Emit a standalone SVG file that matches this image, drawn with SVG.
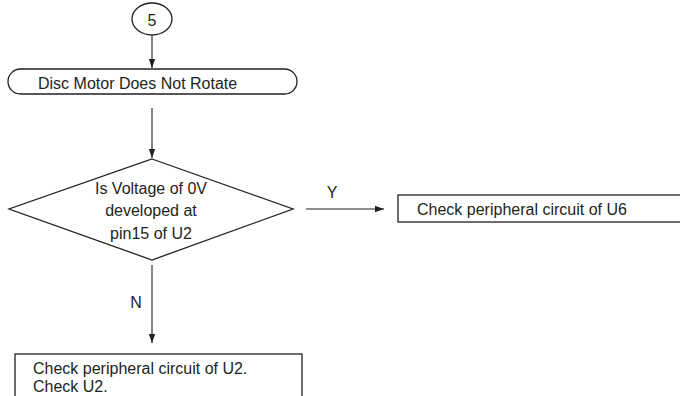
<svg xmlns="http://www.w3.org/2000/svg" width="680" height="396" viewBox="0 0 680 396">
<defs>
<marker id="ah" viewBox="0 0 10 10" refX="10" refY="5" markerWidth="9" markerHeight="9" markerUnits="userSpaceOnUse" orient="auto">
<path d="M0,1.5 L10,5 L0,8.5 Z" fill="#231f20"/>
</marker>
<style>
.s{fill:#fff;stroke:#231f20;stroke-width:1.3}
.t{font-family:"Liberation Sans",Arial,sans-serif;font-size:16px;fill:#231f20}
.c{text-anchor:middle}
.l{stroke:#231f20;stroke-width:1.1;fill:none}
</style>
</defs>
<rect width="680" height="396" fill="#fff"/>
<g id="connectors">
<line class="l" x1="152" y1="36" x2="152" y2="68" marker-end="url(#ah)"/>
<line class="l" x1="152" y1="108" x2="152" y2="158" marker-end="url(#ah)"/>
<line class="l" x1="306" y1="209" x2="384" y2="209" marker-end="url(#ah)"/>
<text class="t c" x="332" y="198">Y</text>
<line class="l" x1="152" y1="265" x2="152" y2="343" marker-end="url(#ah)"/>
<text class="t c" x="136" y="308">N</text>
</g>
<g id="start">
<ellipse class="s" cx="152" cy="19" rx="20" ry="16"/>
<text class="t c" x="152" y="26">5</text>
</g>
<g id="disc-motor">
<rect class="s" x="8" y="69" width="289" height="25" rx="12.5"/>
<text class="t" x="38" y="89">Disc Motor Does Not Rotate</text>
</g>
<g id="decision">
<polygon class="s" points="152,159 293,209 152,260 9,209"/>
<text class="t c" x="151" y="194">Is Voltage of 0V</text>
<text class="t c" x="151" y="216">developed at</text>
<text class="t c" x="151" y="239">pin15 of U2</text>
</g>
<g id="check-u6">
<rect class="s" x="398" y="195" width="290" height="27"/>
<text class="t" x="417" y="215">Check peripheral circuit of U6</text>
</g>
<g id="check-u2">
<rect class="s" x="15" y="354" width="287" height="50"/>
<text class="t" x="33" y="374">Check peripheral circuit of U2.</text>
<text class="t" x="33" y="392">Check U2.</text>
</g>
</svg>
